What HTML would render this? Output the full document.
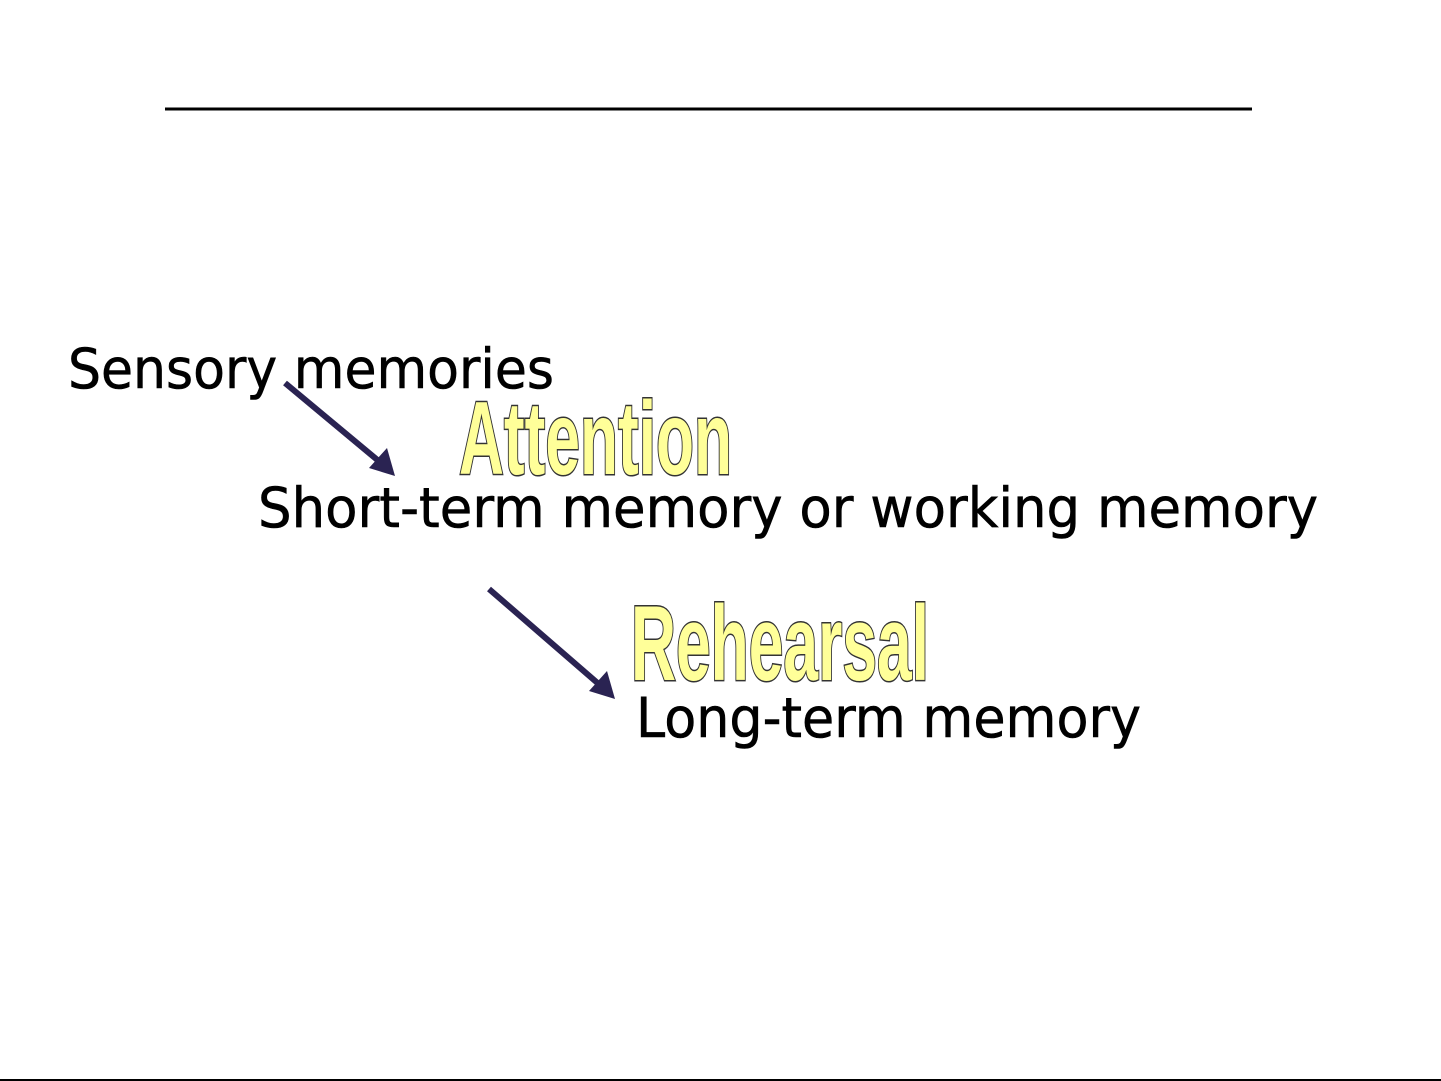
<!DOCTYPE html>
<html><head><meta charset="utf-8"><style>
html,body{margin:0;padding:0;background:#fff;}
svg{display:block;}
</style></head><body>
<svg width="1441" height="1081" viewBox="0 0 1441 1081" xmlns="http://www.w3.org/2000/svg">
<rect width="1441" height="1081" fill="#fff"/>
<line x1="165" y1="109" x2="1252" y2="109" stroke="#000" stroke-width="3"/>
<line x1="0" y1="1080" x2="1441" y2="1080" stroke="#000" stroke-width="2"/>
<g font-family="DejaVu Sans, Verdana, sans-serif" font-size="55" fill="#000" stroke="#000" stroke-width="0.6">
<text x="68" y="388" textLength="486" lengthAdjust="spacingAndGlyphs">Sensory memories</text>
<text x="258" y="527" textLength="1060" lengthAdjust="spacingAndGlyphs">Short-term memory or working memory</text>
<text x="636" y="737" textLength="505" lengthAdjust="spacingAndGlyphs">Long-term memory</text>
</g>
<g font-family="Liberation Sans, sans-serif" font-weight="700" fill="#ffff99" stroke="#333" stroke-width="3" paint-order="stroke">
<text x="459" y="474" font-size="104" textLength="273" lengthAdjust="spacingAndGlyphs">Attention</text>
<text x="631" y="680" font-size="107" textLength="298" lengthAdjust="spacingAndGlyphs">Rehearsal</text>
</g>
<g stroke="#2a2352" stroke-width="6" fill="#2a2352">
<line x1="285" y1="383" x2="381" y2="463"/>
<polygon points="395,476 369,468 387,448" stroke="none"/>
<line x1="489" y1="589" x2="601" y2="686"/>
<polygon points="615,699 589,691 607,671" stroke="none"/>
</g>
</svg>
</body></html>
